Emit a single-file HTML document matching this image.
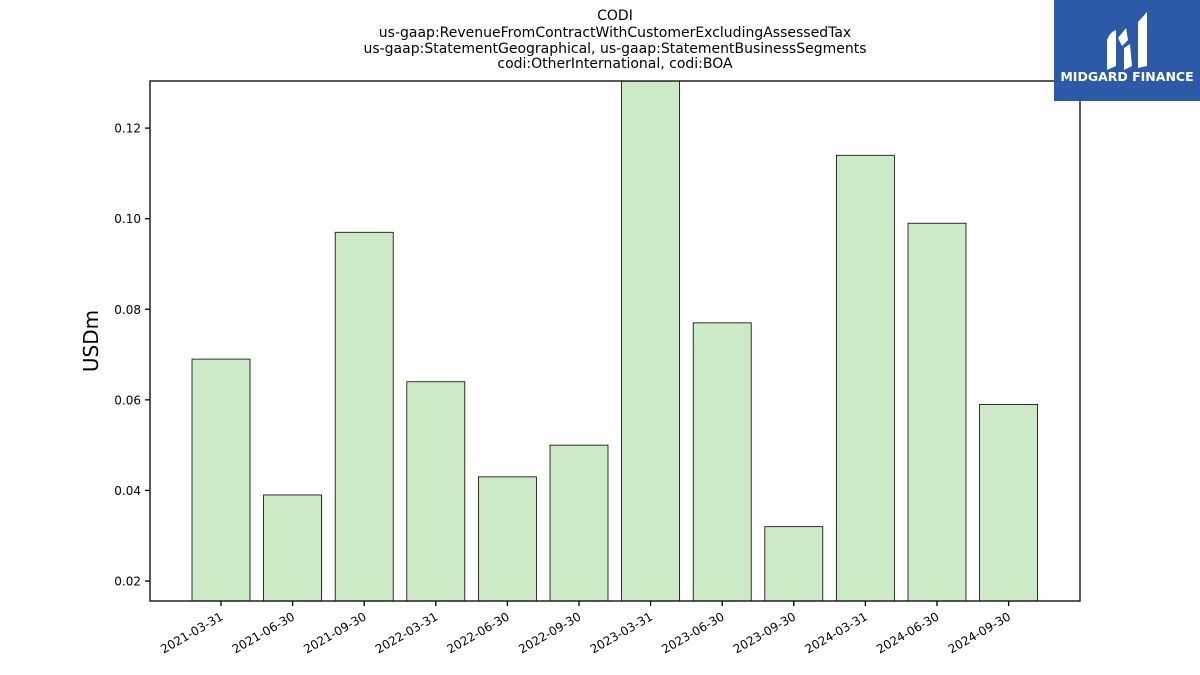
<!DOCTYPE html>
<html><head><meta charset="utf-8"><style>
body{margin:0;background:#fff;}
svg{display:block;font-family:"DejaVu Sans","Liberation Sans",sans-serif;}
</style></head><body>
<svg id="chart" width="1200" height="675" viewBox="0 0 1200 675">
<g font-size="14" text-anchor="middle" fill="#000">
<text x="615" y="20">CODI</text>
<text x="615" y="37">us-gaap:RevenueFromContractWithCustomerExcludingAssessedTax</text>
<text x="615" y="53">us-gaap:StatementGeographical, us-gaap:StatementBusinessSegments</text>
<text x="615" y="68">codi:OtherInternational, codi:BOA</text>
</g>
<g id="bars"></g>
<g id="axes"></g>
<text x="98" y="341" font-size="20" text-anchor="middle" transform="rotate(-90 98 341)">USDm</text>
<g>
<rect x="1054" y="0" width="146" height="101" fill="#2c5aa8"/>
<path d="M1107 70 L1107 40 Q1110 32 1116 30 L1116 66 Z M1124 70 L1124 48 L1130 44 L1132 66 Z M1138 68 L1138 22 L1147 12 L1147 66 Z M1118 38 L1126 28 L1128 40 L1122 46 Z" fill="#fff"/>
<text x="1127" y="81" font-size="12.5" font-weight="bold" fill="#fff" text-anchor="middle">MIDGARD FINANCE</text>
</g>
</svg>
<script>
const categories=["2021-03-31","2021-06-30","2021-09-30","2022-03-31","2022-06-30","2022-09-30","2023-03-31","2023-06-30","2023-09-30","2024-03-31","2024-06-30","2024-09-30"];
const values=[0.069,0.039,0.097,0.064,0.043,0.050,0.135,0.077,0.032,0.114,0.099,0.059];
const yTicks=[0.02,0.04,0.06,0.08,0.10,0.12];
const yTickLabels=["0.02","0.04","0.06","0.08","0.10","0.12"];
const NS="http://www.w3.org/2000/svg";
const L=150,R=1080,T=81,B=601;
const yMin=0.01559,yMax=0.1304;
const y=v=>B-(v-yMin)/(yMax-yMin)*(B-T);
const step=71.6,x0=221;
const x=i=>x0+i*step;
const bw=58;
function mk(t,a,p){const e=document.createElementNS(NS,t);for(const k in a)e.setAttribute(k,a[k]);p.appendChild(e);return e;}
const defs=mk('defs',{},document.getElementById('chart'));
const cp=mk('clipPath',{id:'clip'},defs);mk('rect',{x:L,y:T,width:R-L,height:B-T},cp);
const bars=document.getElementById('bars');bars.setAttribute('clip-path','url(#clip)');
values.forEach((v,i)=>{
 const r=mk('rect',{x:x(i)-bw/2,y:y(v),width:bw,height:B-y(v),fill:'#cdeac6',stroke:'#000','stroke-width':0.8},bars);
 
 
});
const ax=document.getElementById('axes');
const frame=mk('rect',{x:L,y:T,width:R-L,height:B-T,fill:'none',stroke:'#000','stroke-width':1.3},ax);


yTicks.forEach((t,i)=>{
 mk('line',{x1:L-5,x2:L,y1:y(t),y2:y(t),stroke:'#000','stroke-width':1.3},ax);
 const tx=mk('text',{x:L-9,y:y(t)+4.5,'font-size':12,'text-anchor':'end'},ax);
 tx.textContent=yTickLabels[i];
 
 
});
categories.forEach((c,i)=>{
 mk('line',{x1:x(i),x2:x(i),y1:B,y2:B+5,stroke:'#000','stroke-width':1.3},ax);
 const tx=mk('text',{x:x(i)+3,y:B+18,'font-size':12,'text-anchor':'end',transform:`rotate(-30 ${x(i)+3} ${B+18})`},ax);
 tx.textContent=c;
 
 
});
</script>
</body></html>
